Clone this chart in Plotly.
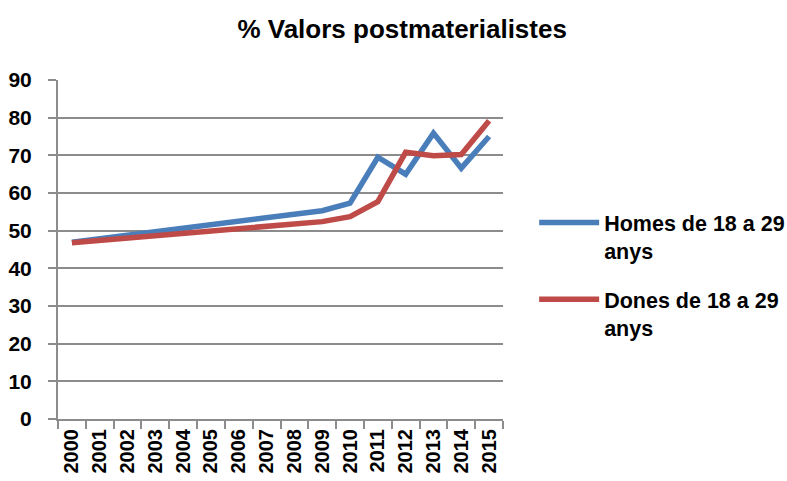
import plotly.graph_objects as go

years = [str(y) for y in range(2000, 2016)]
homes = [46.9, 47.8, 48.7, 49.6, 50.5, 51.4, 52.3, 53.2, 54.2, 55.3, 57.3, 69.5, 65.0, 75.9, 66.6, 75.0]
dones = [46.8, 47.4, 48.1, 48.7, 49.3, 49.9, 50.5, 51.0, 51.7, 52.4, 53.7, 57.7, 70.8, 69.9, 70.2, 79.2]
names = ["<b>Homes de 18 a 29</b><br><b>anys</b>", "<b>Dones de 18 a 29</b><br><b>anys</b>"]
colors = ["#4A7EBB", "#BE4B48"]

FONT = "Liberation Sans, Arial, sans-serif"

fig = go.Figure()
for i, (vals, name, col) in enumerate(zip([homes, dones], names, colors)):
    fig.add_trace(go.Scatter(x=years, y=vals, name=name, mode="lines", legendgroup=f"g{i}",
                             line=dict(color=col, width=5.5)))

fig.update_layout(
    width=787, height=481,
    margin=dict(l=58, r=284, t=80, b=62, autoexpand=False),
    paper_bgcolor="white", plot_bgcolor="white",
    font=dict(family=FONT, color="black"),
    title=dict(text="<b>% Valors postmaterialistes</b>", x=0.511, xanchor="center",
               y=0.94, yanchor="middle", font=dict(size=26, family=FONT)),
    showlegend=True,
    legend=dict(x=1.07, xanchor="left", y=0.425, yanchor="middle",
                font=dict(size=21.5, family=FONT), valign="top",
                tracegroupgap=18, itemwidth=60, bgcolor="rgba(0,0,0,0)"),
    xaxis=dict(type="category", range=[-0.5, 15.5], tickangle=-90,
               showline=True, linecolor="#8C8C8C", linewidth=2,
               ticks="outside", tickson="boundaries", ticklen=8, tickcolor="#8C8C8C", tickwidth=2,
               showgrid=False, tickfont=dict(size=20, family=FONT), automargin=False),
    yaxis=dict(range=[0, 90], dtick=10, showline=True, linecolor="#8C8C8C", linewidth=2,
               ticks="outside", ticklen=8, tickcolor="#8C8C8C", tickwidth=2,
               showgrid=True, gridcolor="#8C8C8C", gridwidth=2, zeroline=False,
               ticklabelstandoff=12,
               tickfont=dict(size=21, family=FONT), automargin=False),
)
fig.update_xaxes(tickprefix="<b>", ticksuffix="</b>")
fig.update_yaxes(tickprefix="<b>", ticksuffix="</b>")
fig.write_html("out.html", config={"displayModeBar": False},
               post_script="document.body.style.margin='0';document.body.style.overflow='hidden';")
